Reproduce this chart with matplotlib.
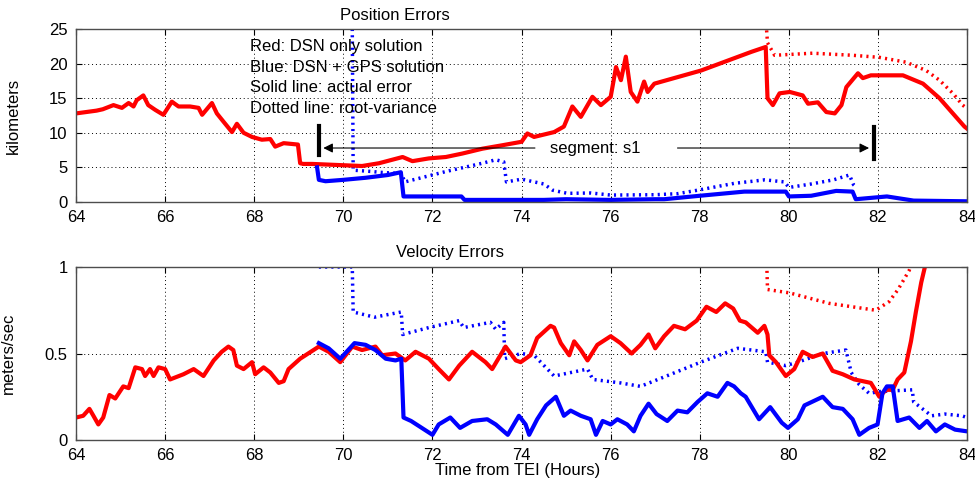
import matplotlib.pyplot as plt

plt.rcParams['font.family'] = ['Liberation Sans', 'DejaVu Sans']

# ---------------- Position errors (km) ----------------
pos_red_t = [64.0, 64.46, 64.6, 64.84, 65.03, 65.18, 65.29, 65.36, 65.51, 65.62, 65.78, 65.96,
             66.15, 66.3, 66.56, 66.75, 66.83, 67.05, 67.16, 67.31, 67.5, 67.61, 67.76, 67.95,
             68.17, 68.36, 68.47, 68.66, 68.98, 69.03, 69.1, 69.3, 69.67, 70.42, 70.8, 71.33,
             71.55, 71.92, 72.3, 72.67, 73.12, 73.57, 74.0, 74.13, 74.28, 74.73, 74.95, 75.14,
             75.33, 75.59, 75.78, 76.0, 76.12, 76.23, 76.34, 76.45, 76.6, 76.75, 76.83, 76.98,
             78.03, 79.16, 79.48, 79.52, 79.64, 79.79, 80.02, 80.31, 80.43, 80.65, 80.84, 81.03,
             81.18, 81.29, 81.55, 81.66, 81.84, 82.03, 82.56, 83.01, 83.38, 83.68, 83.94, 84.0]
pos_red = [12.8, 13.2, 13.4, 14.0, 13.6, 14.3, 13.8, 14.7, 15.4, 14.0, 13.3, 12.6,
           14.5, 13.8, 13.8, 13.6, 12.6, 14.3, 12.8, 11.6, 10.1, 11.3, 10.0, 9.4,
           9.0, 9.1, 8.0, 8.5, 8.3, 5.6, 5.5, 5.5, 5.4, 5.2, 5.6, 6.5,
           5.9, 6.3, 6.5, 7.0, 7.7, 8.2, 8.7, 9.9, 9.4, 10.1, 10.9, 13.8,
           12.3, 15.2, 14.0, 15.2, 19.5, 17.6, 21.0, 15.9, 14.5, 17.4, 15.9, 17.1,
           19.0, 21.7, 22.4, 15.0, 14.0, 15.7, 15.9, 15.4, 14.2, 14.4, 13.0, 12.8,
           14.0, 16.6, 18.6, 17.9, 18.3, 18.3, 18.3, 17.1, 15.0, 12.8, 10.9, 10.6]

pos_red_var_t = [79.5, 79.52, 79.68, 80.53, 81.43, 82.03, 82.63, 83.08, 83.38, 83.68, 83.9, 84.0]
pos_red_var = [24.8, 23.0, 21.2, 21.5, 21.2, 20.9, 20.2, 19.0, 17.6, 15.7, 14.0, 13.5]

pos_blue_t = [69.41, 69.45, 69.6, 70.0, 70.5, 71.0, 71.29, 71.35, 72.0, 72.65, 72.72, 73.5,
              74.0, 74.5, 75.0, 76.0, 77.0, 77.2, 78.0, 79.0, 79.93, 80.0, 80.5, 81.06,
              81.43, 81.5, 82.2, 82.8, 84.0]
pos_blue = [5.0, 3.2, 3.0, 3.2, 3.5, 3.9, 4.3, 0.8, 0.8, 0.8, 0.3, 0.3,
            0.3, 0.3, 0.4, 0.3, 0.4, 0.4, 0.9, 1.5, 1.5, 0.8, 0.9, 1.6,
            1.5, 0.4, 0.8, 0.2, 0.1]

pos_blue_var_t = [70.2, 70.22, 70.65, 70.8, 71.3, 71.38, 72.3, 73.12, 73.42, 73.6, 73.66,
                  74.0, 74.5, 74.7, 75.03, 75.56, 76.0, 77.0, 77.5, 77.95, 78.78, 79.46,
                  79.9, 80.0, 80.5, 81.0, 81.36, 81.45, 81.5]
pos_blue_var = [25.0, 4.6, 4.4, 4.3, 4.1, 2.9, 4.4, 5.6, 6.1, 5.8, 2.9,
                3.3, 2.6, 1.7, 1.25, 1.3, 1.0, 1.05, 1.2, 1.7, 2.7, 3.2,
                2.9, 2.1, 2.6, 3.2, 3.9, 2.5, 2.2]

# ---------------- Velocity errors (m/s) ----------------
vel_red_t = [64.0, 64.16, 64.3, 64.39, 64.5, 64.61, 64.75, 64.88, 65.06, 65.18, 65.33, 65.48,
             65.55, 65.66, 65.74, 65.85, 66.0, 66.11, 66.41, 66.64, 66.86, 67.09, 67.27, 67.42,
             67.53, 67.61, 67.76, 67.95, 68.02, 68.21, 68.36, 68.55, 68.66, 68.77, 69.03, 69.15,
             69.45, 69.67, 69.93, 70.2, 70.42, 70.72, 70.87, 71.17, 71.39, 71.62, 71.92, 72.14,
             72.37, 72.6, 72.89, 73.19, 73.34, 73.64, 73.87, 73.98, 74.2, 74.35, 74.65, 74.73,
             74.88, 75.07, 75.18, 75.33, 75.48, 75.7, 76.0, 76.22, 76.47, 76.67, 76.85, 77.0,
             77.2, 77.42, 77.67, 77.93, 78.15, 78.37, 78.57, 78.75, 78.9, 79.03, 79.3, 79.45,
             79.52, 79.56, 79.71, 79.93, 80.12, 80.31, 80.53, 80.76, 80.98, 81.21, 81.47, 81.66,
             81.84, 82.03, 82.18, 82.33, 82.44, 82.59, 82.74, 82.85, 82.97, 83.08, 83.2]
vel_red = [0.13, 0.14, 0.18, 0.14, 0.09, 0.13, 0.26, 0.24, 0.31, 0.30, 0.42, 0.41,
           0.37, 0.41, 0.37, 0.42, 0.41, 0.35, 0.38, 0.41, 0.37, 0.46, 0.51, 0.54,
           0.52, 0.43, 0.41, 0.45, 0.38, 0.42, 0.39, 0.33, 0.34, 0.41, 0.47, 0.49,
           0.54, 0.51, 0.45, 0.54, 0.52, 0.54, 0.49, 0.50, 0.46, 0.51, 0.47, 0.41,
           0.35, 0.43, 0.51, 0.45, 0.41, 0.54, 0.46, 0.45, 0.49, 0.59, 0.66, 0.65,
           0.56, 0.49, 0.57, 0.52, 0.46, 0.55, 0.60, 0.56, 0.50, 0.55, 0.61, 0.53,
           0.60, 0.66, 0.64, 0.69, 0.77, 0.74, 0.79, 0.76, 0.69, 0.68, 0.62, 0.66,
           0.61, 0.49, 0.45, 0.37, 0.41, 0.51, 0.48, 0.50, 0.40, 0.38, 0.35, 0.34,
           0.33, 0.25, 0.29, 0.29, 0.35, 0.39, 0.57, 0.74, 0.91, 1.03, 1.3]

vel_red_var_t = [79.5, 79.52, 80.02, 80.9, 81.95, 82.25, 82.45, 82.7, 82.8]
vel_red_var = [1.05, 0.87, 0.85, 0.79, 0.75, 0.80, 0.87, 0.98, 1.05]

vel_blue_t = [69.45, 69.67, 69.93, 70.25, 70.5, 70.72, 70.95, 71.17, 71.3, 71.35, 71.52, 71.7,
              72.0, 72.14, 72.4, 72.62, 72.89, 73.23, 73.42, 73.69, 73.94, 74.09, 74.17, 74.35,
              74.55, 74.77, 74.95, 75.1, 75.33, 75.55, 75.67, 75.82, 76.0, 76.15, 76.37, 76.52,
              76.67, 76.85, 77.03, 77.27, 77.5, 77.72, 77.95, 78.17, 78.4, 78.62, 78.77, 78.92,
              79.03, 79.33, 79.58, 79.84, 79.98, 80.2, 80.35, 80.76, 80.98, 81.21, 81.43, 81.58,
              81.8, 81.99, 82.1, 82.2, 82.33, 82.44, 82.7, 82.93, 83.1, 83.3, 83.5, 83.73, 84.0]
vel_blue = [0.56, 0.53, 0.47, 0.56, 0.55, 0.52, 0.47, 0.46, 0.47, 0.13, 0.11, 0.08,
            0.03, 0.09, 0.13, 0.07, 0.11, 0.12, 0.09, 0.03, 0.14, 0.09, 0.03, 0.12,
            0.20, 0.25, 0.14, 0.17, 0.14, 0.12, 0.03, 0.11, 0.09, 0.12, 0.09, 0.05,
            0.14, 0.21, 0.15, 0.11, 0.17, 0.16, 0.22, 0.27, 0.25, 0.33, 0.31, 0.27,
            0.25, 0.12, 0.19, 0.10, 0.07, 0.12, 0.20, 0.25, 0.19, 0.18, 0.12, 0.03,
            0.07, 0.09, 0.27, 0.31, 0.31, 0.11, 0.13, 0.07, 0.11, 0.05, 0.09, 0.06, 0.05]

vel_blue_var_t = [69.45, 70.0, 70.2, 70.22, 70.7, 71.3, 71.33, 71.92, 72.6, 72.7, 73.3, 73.42,
                  73.6, 73.62, 73.98, 74.28, 74.58, 74.73, 75.48, 75.6, 76.22, 76.67, 77.35,
                  78.02, 78.85, 79.48, 79.52, 79.93, 80.2, 80.76, 81.28, 81.4, 81.58, 81.8,
                  82.03, 82.77, 82.8, 83.2, 83.5, 83.88, 84.0]
vel_blue_var = [1.0, 1.0, 1.0, 0.74, 0.71, 0.74, 0.61, 0.65, 0.69, 0.65, 0.68, 0.64,
                0.68, 0.47, 0.50, 0.49, 0.41, 0.37, 0.41, 0.35, 0.33, 0.31, 0.38,
                0.45, 0.53, 0.51, 0.45, 0.43, 0.45, 0.50, 0.52, 0.39, 0.32, 0.27,
                0.28, 0.29, 0.22, 0.14, 0.15, 0.14, 0.13]

x_ticks = list(range(64, 85, 2))
pos_yticks = [0, 5, 10, 15, 20, 25]
vel_yticks = [0, 0.5, 1]
notes = ["Red: DSN only solution", "Blue: DSN + GPS solution",
         "Solid line: actual error", "Dotted line: root-variance"]

RED = '#ff0000'
BLUE = '#0000ff'
dot = (0, (0.6, 1.2))

fig = plt.figure(figsize=(9.75, 4.83), dpi=100)
ax1 = fig.add_axes([0.078, 0.5818, 0.9139, 0.3582])
ax2 = fig.add_axes([0.078, 0.089, 0.9139, 0.3582])

for ax in (ax1, ax2):
    ax.set_xlim(64, 84)
    ax.set_xticks(x_ticks)
    ax.grid(True, color='black', linestyle=(0, (1, 3)), linewidth=0.7)
    ax.tick_params(direction='in', top=True, right=True, length=4, labelsize=12, pad=6)
    for s in ax.spines.values():
        s.set_color('0.3')
        s.set_linewidth(1.0)

# top panel
ax1.plot(pos_red_var_t, pos_red_var, color=RED, lw=2.5, linestyle=dot)
ax1.plot(pos_blue_var_t, pos_blue_var, color=BLUE, lw=2.5, linestyle=dot)
ax1.plot(pos_red_t, pos_red, color=RED, lw=3)
ax1.plot(pos_blue_t, pos_blue, color=BLUE, lw=3)
ax1.set_ylim(0, 25)
ax1.set_yticks(pos_yticks)
ax1.set_ylabel('kilometers', fontsize=12)
ax1.yaxis.set_label_coords(-0.062, 0.5)

for i, line in enumerate(notes):
    ax1.text(67.9, 22.4 - i * 2.95, line, fontsize=12, va='center', ha='left')

# segment annotation
seg_start, seg_end, seg_y = 69.45, 81.9, 7.8
ax1.plot([seg_start, seg_start], [6.8, 11.0], color='black', lw=3)
ax1.plot([seg_end, seg_end], [6.2, 10.9], color='black', lw=3)
ax1.annotate('', xy=(seg_start + 0.1, seg_y), xytext=(74.3, seg_y),
             arrowprops=dict(arrowstyle='-|>', color='black', lw=0.8,
                             mutation_scale=14, shrinkA=0, shrinkB=0))
ax1.annotate('', xy=(seg_end - 0.1, seg_y), xytext=(77.5, seg_y),
             arrowprops=dict(arrowstyle='-|>', color='black', lw=0.8,
                             mutation_scale=14, shrinkA=0, shrinkB=0))
ax1.text(75.65, seg_y, 'segment: s1', fontsize=12, ha='center', va='center')

# bottom panel
ax2.plot(vel_red_var_t, vel_red_var, color=RED, lw=2.5, linestyle=dot)
ax2.plot(vel_blue_var_t, vel_blue_var, color=BLUE, lw=2.5, linestyle=dot)
ax2.plot(vel_red_t, vel_red, color=RED, lw=3)
ax2.plot(vel_blue_t, vel_blue, color=BLUE, lw=3)
ax2.set_ylim(0, 1)
ax2.set_yticks(vel_yticks)
ax2.set_yticklabels(['0', '0.5', '1'])
ax2.set_ylabel('meters/sec', fontsize=12)
ax2.yaxis.set_label_coords(-0.068, 0.5)

fig.text(395 / 975, 1 - 16 / 483, 'Position Errors', fontsize=12, ha='center', va='center')
fig.text(450 / 975, 1 - 253 / 483, 'Velocity Errors', fontsize=12, ha='center', va='center')
fig.text(518 / 975, 1 - 470 / 483, 'Time from TEI (Hours)', fontsize=12, ha='center', va='center')

fig.savefig('out.png', dpi=100)
